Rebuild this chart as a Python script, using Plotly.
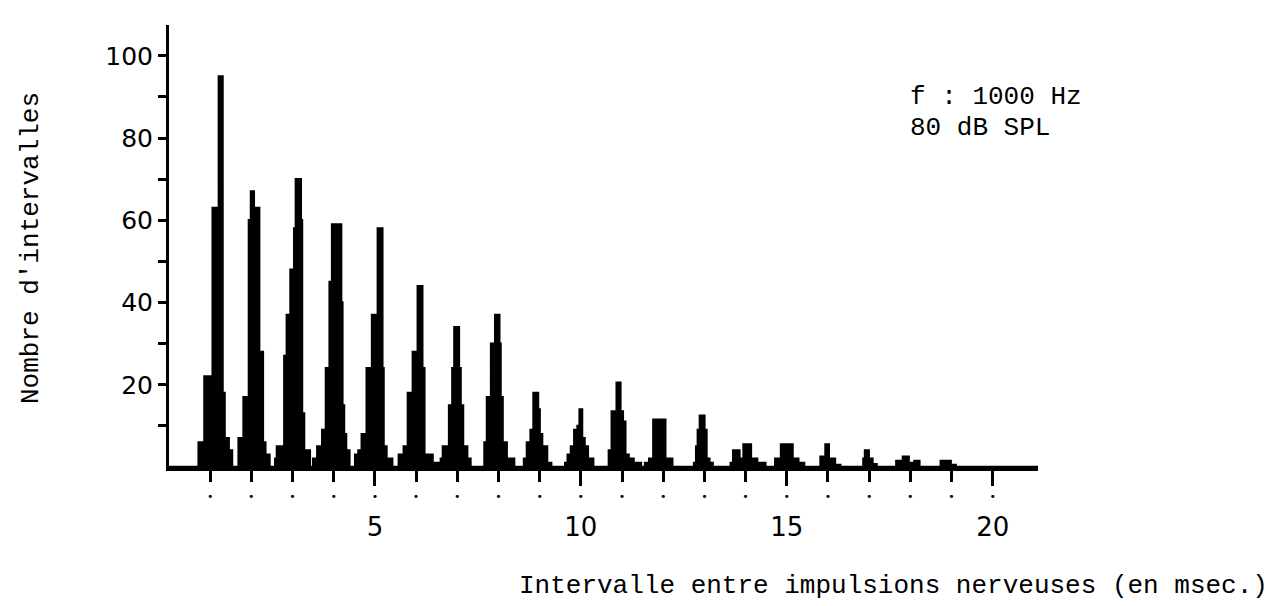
import plotly.graph_objects as go

# ---- data -----------------------------------------------------------------
# Each peak: step edges (ms) and the count held from that edge to the next.
peak_ms = [
    [0.72, 0.86, 1.06, 1.21, 1.30, 1.35, 1.45, 1.53],
    [1.69, 1.81, 1.94, 1.99, 2.06, 2.19, 2.28, 2.34, 2.44],
    [2.58, 2.62, 2.80, 2.86, 2.95, 3.04, 3.08, 3.20, 3.23, 3.28, 3.42],
    [3.50, 3.60, 3.72, 3.81, 3.90, 3.96, 4.18, 4.21, 4.25, 4.30, 4.38],
    [4.52, 4.60, 4.68, 4.80, 4.93, 5.07, 5.18, 5.21, 5.28, 5.42],
    [5.58, 5.70, 5.80, 5.92, 6.04, 6.15, 6.20, 6.40, 6.55],
    [6.60, 6.65, 6.80, 6.88, 6.93, 7.04, 7.08, 7.14, 7.24, 7.32],
    [7.66, 7.72, 7.82, 7.92, 8.02, 8.05, 8.10, 8.20, 8.38],
    [8.62, 8.69, 8.78, 8.85, 8.96, 9.00, 9.06, 9.18, 9.28],
    [9.62, 9.68, 9.76, 9.84, 9.92, 9.97, 10.03, 10.09, 10.17, 10.30],
    [10.68, 10.75, 10.87, 10.96, 11.02, 11.08, 11.16, 11.28, 11.34, 11.46],
    [11.56, 11.66, 11.76, 12.05, 12.22],
    [12.75, 12.80, 12.84, 12.89, 13.00, 13.05, 13.12, 13.20],
    [13.64, 13.70, 13.85, 13.95, 14.13, 14.28, 14.48],
    [14.72, 14.86, 15.14, 15.28, 15.42],
    [15.82, 15.94, 16.02, 16.06, 16.17, 16.30],
    [16.86, 16.90, 16.99, 17.08, 17.18],
    [17.66, 17.82, 17.96, 18.10, 18.22],
    [18.74, 18.98, 19.10],
]
peak_count = [
    [6, 22, 63, 95, 18, 7, 4, 0],
    [7, 17, 60, 67, 63, 28, 6, 3, 0],
    [2, 5, 27, 37, 48, 58, 70, 60, 13, 4, 0],
    [2, 5, 9, 24, 45, 59, 40, 15, 8, 4, 0],
    [3, 4, 8, 24, 37, 58, 24, 5, 2, 0],
    [3, 5, 18, 28, 44, 24, 3, 1, 0],
    [2, 5, 15, 24, 34, 24, 15, 5, 2, 0],
    [6, 17, 30, 37, 30, 17, 6, 2, 0],
    [2, 6, 9, 18, 14, 8, 5, 1, 0],
    [1, 3, 5, 9, 10, 14, 7, 5, 2, 0],
    [4, 13.5, 20.5, 13.5, 11, 3, 2, 0, 1, 0],
    [1, 2, 11.5, 2, 0],
    [1, 5, 9, 12.5, 9, 2, 1, 0],
    [1, 4, 2, 5.5, 2, 1, 0],
    [2, 5.5, 2, 1, 0],
    [2.5, 5.5, 1, 2, 0.5, 0],
    [2, 4, 2, 0.7, 0],
    [1.5, 2.5, 1, 1.5, 0],
    [1.5, 0.5, 0],
]

tick_ms = list(range(1, 21))          # small tick + dot at every ms
label_ms = [5, 10, 15, 20]             # labelled (longer) ticks
y_tickvals = [10, 20, 30, 40, 50, 60, 70, 80, 90, 100]
y_ticktext = ["", "20", "", "40", "", "60", "", "80", "", "100"]

x_title = "Intervalle entre impulsions nerveuses (en msec.)"
y_title = "Nombre d'intervalles"
note_1 = "f : 1000 Hz"
note_2 = "80 dB SPL"

X_MAX = 21.1
Y_MAX = 107.5

# ---- build the step series -------------------------------------------------
xs, ys = [0.0], [0.0]
for px, pc in zip(peak_ms, peak_count):
    xs.extend(px)
    ys.extend(pc)
xs.append(X_MAX)
ys.append(0.0)

MONO = "Liberation Mono"
SANS = "DejaVu Sans"

fig = go.Figure()
fig.add_trace(go.Scatter(
    x=xs, y=ys, mode="lines", line_shape="hv",
    line=dict(color="black", width=2.4),
    fill="tozeroy", fillcolor="black", hoverinfo="skip", showlegend=False,
))
# invisible trace so the overlay axis (long ticks + numbers) is drawn
fig.add_trace(go.Scatter(
    x=label_ms, y=[0] * len(label_ms), xaxis="x2", mode="markers",
    marker=dict(size=1, opacity=0), hoverinfo="skip", showlegend=False,
))

fig.update_layout(
    width=1272, height=606,
    margin=dict(l=161, r=242, t=17, b=147, pad=0),
    paper_bgcolor="white", plot_bgcolor="white",
    showlegend=False,
    xaxis=dict(
        range=[0, X_MAX], showline=True, linecolor="black", linewidth=4,
        showgrid=False, zeroline=False, mirror=False,
        tickmode="array", tickvals=tick_ms, ticktext=["•"] * len(tick_ms),
        ticks="outside", ticklen=11, tickwidth=3, tickcolor="black",
        tickfont=dict(family=SANS, size=11, color="black"),
        ticklabelstandoff=5,
    ),
    xaxis2=dict(
        range=[0, X_MAX], overlaying="x", anchor="y", side="bottom",
        showline=False, showgrid=False, zeroline=False,
        tickmode="array", tickvals=label_ms, ticktext=[str(v) for v in label_ms],
        ticks="outside", ticklen=18, tickwidth=3, tickcolor="black",
        tickfont=dict(family=SANS, size=26, color="black"),
        ticklabelstandoff=19,
    ),
    yaxis=dict(
        range=[0, Y_MAX], showline=True, linecolor="black", linewidth=3,
        showgrid=False, zeroline=False, mirror=False,
        tickmode="array", tickvals=y_tickvals, ticktext=y_ticktext,
        ticks="outside", ticklen=8, tickwidth=2.5, tickcolor="black",
        tickfont=dict(family=SANS, size=25, color="black"),
    ),
    annotations=[
        dict(text=y_title, xref="paper", yref="paper", x=-0.1588, y=0.4955,
             textangle=-90, showarrow=False, xanchor="center", yanchor="middle",
             font=dict(family=MONO, size=26, color="black")),
        dict(text=x_title, xref="paper", yref="paper", x=0.834, y=-0.269,
             showarrow=False, xanchor="center", yanchor="middle",
             font=dict(family=MONO, size=26, color="black")),
        dict(text=note_1, xref="paper", yref="paper", x=0.8504, y=0.837,
             showarrow=False, xanchor="left", yanchor="middle",
             font=dict(family=MONO, size=26, color="black")),
        dict(text=note_2, xref="paper", yref="paper", x=0.8504, y=0.767,
             showarrow=False, xanchor="left", yanchor="middle",
             font=dict(family=MONO, size=26, color="black")),
    ],
)

fig.write_html("out.html")
